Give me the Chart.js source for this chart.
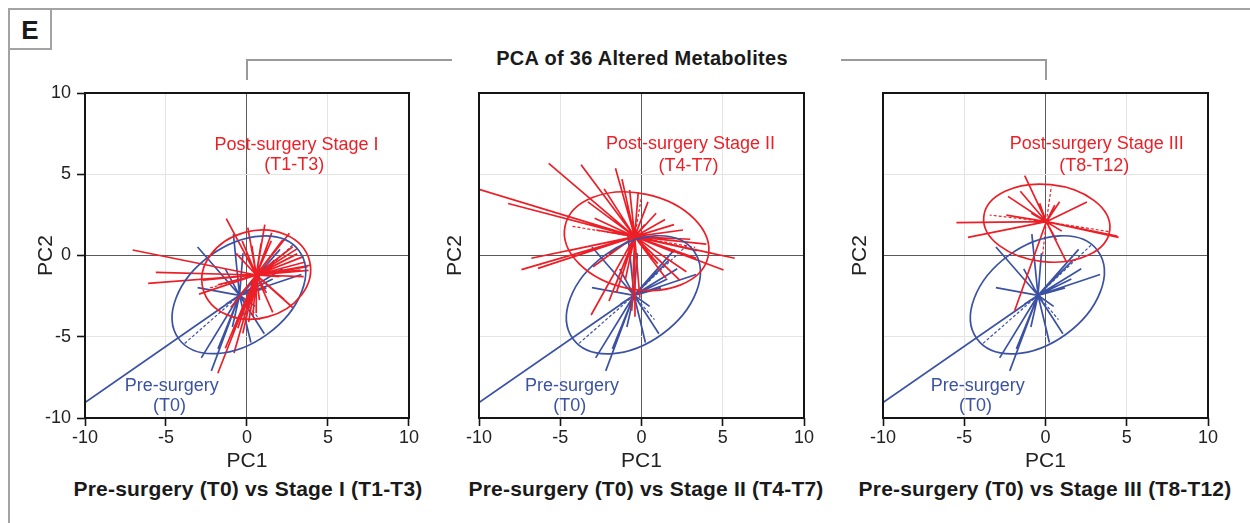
<!DOCTYPE html>
<html>
<head>
<meta charset="utf-8">
<script src="https://cdn.jsdelivr.net/npm/chart.js@4.4.1/dist/chart.umd.min.js"></script>
<style>
  html, body { margin: 0; padding: 0; background: #fff; }
  body { width: 1250px; height: 523px; position: relative; overflow: hidden; font-family: "Liberation Sans", Arial, sans-serif; color: #1a1a1a; }
  .frame { position: absolute; left: 8px; top: 8px; right: -10px; bottom: -10px; border-left: 2px solid #a3a3a3; border-top: 2px solid #a3a3a3; }
  .tag { position: absolute; left: 8px; top: 8px; width: 40px; height: 38px; border: 2px solid #a3a3a3; font-weight: bold; font-size: 26px; line-height: 40px; text-align: center; }
  .bracket { position: absolute; top: 59px; height: 19px; border-top: 2.5px solid #9a9a9a; }
  .bracket.l { left: 246px; width: 204px; border-left: 2.5px solid #9a9a9a; }
  .bracket.r { left: 841px; width: 204px; border-right: 2.5px solid #9a9a9a; }
  .title { position: absolute; left: 392px; width: 500px; top: 48px; font-size: 20px; line-height: 20px; font-weight: bold; text-align: center; letter-spacing: 0.3px; }
  .sub { position: absolute; top: 478px; width: 440px; font-size: 21px; line-height: 21px; font-weight: bold; text-align: center; letter-spacing: 0.2px; }
  canvas { position: absolute; top: 0; }
</style>
</head>
<body>
<div class="frame"></div>
<div class="tag">E</div>
<div class="bracket l"></div>
<div class="bracket r"></div>
<div class="title">PCA of 36 Altered Metabolites</div>
<div class="sub" style="left:28px">Pre-surgery (T0) vs Stage I (T1-T3)</div>
<div class="sub" style="left:426px">Pre-surgery (T0) vs Stage II (T4-T7)</div>
<div class="sub" style="left:825px">Pre-surgery (T0) vs Stage III (T8-T12)</div>
<canvas id="p1" width="410" height="523" style="left:10px"></canvas>
<canvas id="p2" width="400" height="523" style="left:420px"></canvas>
<canvas id="p3" width="420" height="523" style="left:820px"></canvas>
<script>
const AXIS_MIN = -10;
const AXIS_MAX = 10;

const RED = '#ec1f27';
const BLUE = '#3b52a3';
const FONT = '"Liberation Sans", Arial, sans-serif';

// Pre-surgery (T0) samples, same group in all three panels
const preCentroid = [-0.46, -2.45];
const preSpokes = [
  [-10, -9.05], [-3.05, 0.52], [-3.05, -1.98], [-2.82, -6.3], [-2.2, -7.1],
  [-1.79, -5.75], [-0.84, 1.32], [-1.34, -0.82], [-0.25, 0.14], [0.24, -5.35],
  [1.07, -4.82], [0.5, -3.13], [2.04, 0.38], [2.2, -0.82], [3.36, -1.17],
  [1.59, -1.45], [1.69, -0.28], [1.2, -2.0], [-0.9, -4.4], [-1.3, -3.0]
];
const preDashed = [[2.85, 0.68], [-3.95, -5.5], [0.8, -3.95]];
const preEllipse = [-0.5, -2.42, 4.6, 3.0, 36];

// Stage I (T1-T3)
const st1Centroid = [0.57, -1.2];
const st1Spokes = [
  [-7.06, 0.34], [-5.63, -1.04], [-6.1, -1.71], [-2.96, -2.38], [-2.72, -1.51],
  [-1.28, 2.27], [0.05, 1.72], [1.53, 1.4], [2.62, 1.37], [2.2, 0.95],
  [2.82, 0.54], [3.13, 0.44], [3.48, -0.07], [3.74, -0.69], [3.8, -0.92],
  [3.6, -0.4], [3.3, -0.9], [2.5, -0.2], [2.82, -3.2], [1.59, -3.5],
  [0.57, -3.56], [0.77, -2.74], [-1.8, -7.25], [-1.34, -5.71], [-0.57, -4.48],
  [-0.26, -4.79], [0.36, -3.76], [-0.67, 0.13], [0.87, 0.75], [2.0, -1.3],
  [1.1, 1.9], [0.3, 0.6], [-0.5, -2.6], [1.2, -2.3], [2.3, -2.7],
  [-1.0, -3.2], [0.1, -4.1], [-0.8, -6.0], [3.1, 0.1], [1.8, 0.4],
  [-1.8, -1.8], [-0.3, 0.9], [3.9, -0.6], [3.5, -1.3], [1.5, 0.9]
];
const st1Dashed = [[3.0, -0.85], [-2.3, -2.0]];
const st1Ellipse = [0.57, -1.18, 3.4, 2.7, 15];

// Stage II (T4-T7)
const st2Centroid = [-0.42, 1.16];
const st2Spokes = [
  [-10, 4.07], [-8.21, 3.2], [-5.71, 5.67], [-3.72, 5.59], [-1.6, 5.37],
  [-7.39, -0.87], [-6.78, -0.17], [-6.37, -0.79], [-3.1, -3.66], [-1.55, -2.3],
  [-1.55, -1.71], [-0.4, -3.77], [5.74, -0.17], [5.05, -0.89], [3.99, 0.7],
  [2.55, 1.57], [1.45, 2.22], [3.38, -0.17], [2.76, -1.0], [2.35, -1.51],
  [-2.88, 2.29], [-2.78, 1.57], [-2.98, -0.69], [-0.73, 4.03], [-1.2, 4.7],
  [-0.2, 3.9], [0.4, 3.3], [0.9, 2.6], [2.0, 1.9], [3.0, 1.0],
  [3.4, 0.3], [2.0, 0.2], [1.0, -0.5], [-2.0, -2.8], [-0.6, -3.4],
  [-0.1, -2.6], [-1.0, -1.5], [1.5, -1.4], [-2.3, 4.1], [-3.3, 3.3],
  [-4.5, 0.3], [-2.0, 0.1], [4.5, 0.1], [0.2, 1.9]
];
const st2Dashed = [[0.0, 3.6], [-4.3, 1.8], [3.3, 0.5]];
const st2Ellipse = [-0.3, 0.88, 4.5, 2.95, -12];

// Stage III (T8-T12)
const st3Centroid = [0.05, 2.08];
const st3Spokes = [
  [-1.28, 4.92], [-5.48, 2.02], [-4.77, 1.12], [-2.41, 2.49], [-2.31, 3.64],
  [-1.55, 3.95], [-0.36, 3.21], [0.87, 3.31], [2.55, 3.29], [4.5, 1.12],
  [4.45, 1.17], [4.4, 1.2], [1.28, -0.38], [-1.9, -3.4], [-0.87, 2.6],
  [0.57, 3.1], [0.67, 0.95], [-1.2, 2.9], [1.0, 1.5]
];
const st3Dashed = [[-3.43, 2.49], [0.36, 4.24], [3.91, 1.47], [-0.19, -0.07]];
const st3Ellipse = [0.08, 1.99, 3.9, 2.38, -6];

const tickValues = [-10, -5, 0, 5, 10];

const panels = [
  {
    id: 'p1', yWidth: 75, padRight: 10, showY: true, titleOffset: 36,
    red: { c: st1Centroid, solid: st1Spokes, dashed: st1Dashed, ellipse: st1Ellipse },
    labels: [
      { text: 'Post-surgery Stage I', x: 3.06, y: 6.77, color: RED },
      { text: '(T1-T3)', x: 2.92, y: 5.54, color: RED },
      { text: 'Pre-surgery', x: -4.65, y: -8.02, color: BLUE },
      { text: '(T0)', x: -4.78, y: -9.29, color: BLUE }
    ]
  },
  {
    id: 'p2', yWidth: 59, padRight: 16, showY: false, titleOffset: 35,
    red: { c: st2Centroid, solid: st2Spokes, dashed: st2Dashed, ellipse: st2Ellipse },
    labels: [
      { text: 'Post-surgery Stage II', x: 3.02, y: 6.83, color: RED },
      { text: '(T4-T7)', x: 2.89, y: 5.52, color: RED },
      { text: 'Pre-surgery', x: -4.28, y: -8.02, color: BLUE },
      { text: '(T0)', x: -4.41, y: -9.29, color: BLUE }
    ]
  },
  {
    id: 'p3', yWidth: 63, padRight: 32, showY: false, titleOffset: 40,
    red: { c: st3Centroid, solid: st3Spokes, dashed: st3Dashed, ellipse: st3Ellipse },
    labels: [
      { text: 'Post-surgery Stage III', x: 3.15, y: 6.83, color: RED },
      { text: '(T8-T12)', x: 3.0, y: 5.52, color: RED },
      { text: 'Pre-surgery', x: -4.17, y: -8.02, color: BLUE },
      { text: '(T0)', x: -4.31, y: -9.29, color: BLUE }
    ]
  }
];

function spokeData(center, ends) {
  const out = [];
  ends.forEach(([x, y]) => {
    out.push({ x: center[0], y: center[1] }, { x, y }, { x: NaN, y: NaN });
  });
  return out;
}

function spokeSet(label, center, ends, color, dash) {
  return {
    label,
    data: spokeData(center, ends),
    showLine: true,
    spanGaps: false,
    borderColor: color,
    borderWidth: dash ? 1.2 : 1.7,
    borderDash: dash ? [3, 2] : [],
    pointRadius: 0,
    pointHoverRadius: 0
  };
}

// ellipses, plot frame and in-plot group labels
const pcaDecor = {
  id: 'pcaDecor',
  afterDatasetsDraw(chart, args, opts) {
    const { ctx, chartArea: a, scales: { x, y } } = chart;
    const unit = Math.abs(x.getPixelForValue(1) - x.getPixelForValue(0));
    ctx.save();
    ctx.beginPath();
    ctx.rect(a.left, a.top, a.width, a.height);
    ctx.clip();
    opts.ellipses.forEach(({ shape, color }) => {
      const [cx, cy, rx, ry, deg] = shape;
      ctx.beginPath();
      ctx.ellipse(x.getPixelForValue(cx), y.getPixelForValue(cy), rx * unit, ry * unit, -deg * Math.PI / 180, 0, Math.PI * 2);
      ctx.strokeStyle = color;
      ctx.lineWidth = 1.7;
      ctx.stroke();
    });
    ctx.restore();
  },
  afterDraw(chart, args, opts) {
    const { ctx, chartArea: a, scales: { x, y } } = chart;
    ctx.save();
    ctx.strokeStyle = '#151515';
    ctx.lineWidth = 2;
    ctx.strokeRect(a.left, a.top, a.width, a.height);
    ctx.font = '18px ' + FONT;
    ctx.textAlign = 'center';
    ctx.textBaseline = 'middle';
    opts.labels.forEach(l => {
      ctx.fillStyle = l.color;
      ctx.fillText(l.text, x.getPixelForValue(l.x), y.getPixelForValue(l.y));
    });
    ctx.restore();
  }
};

function gridColor(ctx) {
  const v = ctx.tick && ctx.tick.value;
  if (v === 0) return '#5a5a5a';
  if (v === AXIS_MIN || v === AXIS_MAX) return 'rgba(0,0,0,0)';
  return '#e4e4e4';
}

panels.forEach(p => {
  new Chart(document.getElementById(p.id), {
    type: 'scatter',
    data: {
      datasets: [
        spokeSet('post dashed', p.red.c, p.red.dashed, RED, true),
        spokeSet('post', p.red.c, p.red.solid, RED, false),
        spokeSet('pre dashed', preCentroid, preDashed, BLUE, true),
        spokeSet('pre', preCentroid, preSpokes, BLUE, false)
      ]
    },
    plugins: [pcaDecor],
    options: {
      responsive: false,
      animation: false,
      events: [],
      layout: { padding: { top: 93, right: p.padRight, bottom: 0, left: 0 } },
      scales: {
        x: {
          type: 'linear',
          min: AXIS_MIN,
          max: AXIS_MAX,
          afterBuildTicks(scale) { scale.ticks = tickValues.map(v => ({ value: v })); },
          afterFit(scale) { scale.height = 105; },
          border: { display: false },
          grid: { color: gridColor, lineWidth: 1, drawTicks: true, tickLength: 8, tickColor: '#151515', tickWidth: 1.6 },
          ticks: { color: '#222', font: { size: 18, family: FONT }, padding: 1, maxRotation: 0 },
          title: { display: true, text: 'PC1', color: '#222', font: { size: 21, family: FONT }, padding: { top: 0, bottom: 49 } }
        },
        y: {
          type: 'linear',
          min: AXIS_MIN,
          max: AXIS_MAX,
          afterBuildTicks(scale) { scale.ticks = tickValues.map(v => ({ value: v })); },
          afterFit(scale) { scale.width = p.yWidth; },
          border: { display: false },
          grid: { color: gridColor, lineWidth: 1, drawTicks: p.showY, tickLength: 8, tickColor: '#151515', tickWidth: 1.6 },
          ticks: { display: p.showY, color: '#222', font: { size: 18, family: FONT }, padding: 6 },
          title: { display: true, text: 'PC2', color: '#222', font: { size: 21, family: FONT }, padding: { top: p.titleOffset - 12.5, bottom: 0 } }
        }
      },
      plugins: {
        legend: { display: false },
        tooltip: { enabled: false },
        pcaDecor: {
          ellipses: [
            { shape: preEllipse, color: BLUE },
            { shape: p.red.ellipse, color: RED }
          ],
          labels: p.labels
        }
      }
    }
  });
});
</script>
</body>
</html>
